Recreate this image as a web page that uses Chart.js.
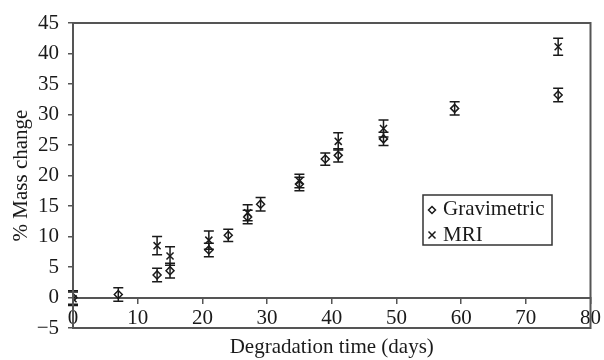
<!DOCTYPE html>
<html>
<head>
<meta charset="utf-8">
<script src="https://cdn.jsdelivr.net/npm/chart.js@4.4.1/dist/chart.umd.min.js"></script>
<style>
  html, body { margin: 0; padding: 0; background: #fff; }
  #wrap { width: 604px; height: 360px; }
</style>
</head>
<body>
<div id="wrap"><canvas id="chart-mass"></canvas></div>
<script>
// data
const gravDays = [0, 7, 13, 15, 21, 24, 27, 29, 35, 39, 41, 48, 59, 75];
const gravMass = [0, 0.5, 3.7, 4.4, 7.8, 10.2, 13.2, 15.3, 18.6, 22.7, 23.3, 26.0, 31.0, 33.2];
const gravErr  = [1.1, 1.1, 1.1, 1.2, 1.1, 1.0, 1.1, 1.1, 1.1, 1.0, 1.1, 1.1, 1.1, 1.1];

const mriDays = [0, 13, 15, 21, 27, 35, 41, 48, 75];
const mriMass = [-0.2, 8.5, 6.8, 9.4, 13.9, 19.1, 25.6, 27.7, 41.1];
const mriErr  = [1.1, 1.5, 1.5, 1.5, 1.3, 1.1, 1.4, 1.4, 1.4];

const xTicks = [0, 10, 20, 30, 40, 50, 60, 70, 80];
const yTicks = [-5, 0, 5, 10, 15, 20, 25, 30, 35, 40, 45];

const FONT = 'Liberation Serif, Times New Roman, serif';
const INK = '#1a1a1a';
const AXIS = '#555';
const PAD = { left: 9, top: 23, right: 13, bottom: 0 };

const toPts = (xs, ys) => xs.map((x, i) => ({ x, y: ys[i] }));

// error bars + frame + legend, drawn through the chart's own scales
const errorBars = {
  id: 'errorBars',
  beforeDatasetsDraw(chart) {
    const { ctx, scales: { x, y } } = chart;
    const sets = [[gravDays, gravMass, gravErr], [mriDays, mriMass, mriErr]];
    ctx.save();
    ctx.strokeStyle = INK;
    ctx.lineWidth = 1.5;
    sets.forEach(([ds, ms, es]) => {
      ds.forEach((d, i) => {
        const px = x.getPixelForValue(d);
        const top = y.getPixelForValue(ms[i] + es[i]);
        const bot = y.getPixelForValue(ms[i] - es[i]);
        ctx.beginPath();
        ctx.moveTo(px, top); ctx.lineTo(px, bot);
        ctx.moveTo(px - 5, top); ctx.lineTo(px + 5, top);
        ctx.moveTo(px - 5, bot); ctx.lineTo(px + 5, bot);
        ctx.stroke();
      });
    });
    ctx.restore();
  },
  afterDraw(chart) {
    const { ctx, chartArea: a } = chart;
    ctx.save();
    ctx.strokeStyle = AXIS;
    ctx.lineWidth = 2;
    ctx.strokeRect(a.left, a.top, a.right - a.left, a.bottom - a.top);

    // legend box
    const lx = a.left + 350, ly = a.top + 172, lw = 129, lh = 50;
    ctx.lineWidth = 1.5;
    ctx.strokeStyle = '#333';
    ctx.fillStyle = '#fff';
    ctx.fillRect(lx, ly, lw, lh);
    ctx.strokeRect(lx, ly, lw, lh);
    ctx.strokeStyle = INK;
    ctx.lineWidth = 1.5;
    const dx = lx + 9, dy = ly + 15;
    ctx.beginPath();
    ctx.moveTo(dx, dy - 3.5); ctx.lineTo(dx + 3.5, dy); ctx.lineTo(dx, dy + 3.5); ctx.lineTo(dx - 3.5, dy); ctx.closePath();
    ctx.stroke();
    const cx = lx + 9, cy = ly + 40;
    ctx.beginPath();
    ctx.moveTo(cx - 3.5, cy - 3.5); ctx.lineTo(cx + 3.5, cy + 3.5);
    ctx.moveTo(cx + 3.5, cy - 3.5); ctx.lineTo(cx - 3.5, cy + 3.5);
    ctx.stroke();
    ctx.fillStyle = INK;
    ctx.font = `21px ${FONT}`;
    ctx.textBaseline = 'middle';
    ctx.fillText(chart.data.datasets[0].label, lx + 20, dy - 1);
    ctx.fillText(chart.data.datasets[1].label, lx + 20, cy);
    ctx.restore();
  },
};

new Chart(document.getElementById('chart-mass'), {
  type: 'scatter',
  data: {
    datasets: [
      {
        label: 'Gravimetric',
        data: toPts(gravDays, gravMass),
        pointStyle: 'rectRot',
        pointRadius: 4,
        pointBorderWidth: 1.5,
        borderColor: INK,
        backgroundColor: 'rgba(0,0,0,0)',
      },
      {
        label: 'MRI',
        data: toPts(mriDays, mriMass),
        pointStyle: 'crossRot',
        pointRadius: 5,
        pointBorderWidth: 1.5,
        borderColor: INK,
        backgroundColor: INK,
      },
    ],
  },
  options: {
    responsive: true,
    maintainAspectRatio: false,
    animation: false,
    layout: { padding: PAD },
    plugins: { legend: { display: false }, tooltip: { enabled: false } },
    scales: {
      x: {
        type: 'linear',
        min: 0, max: 80,
        position: { y: 0 },
        afterBuildTicks: s => { s.ticks = xTicks.map(v => ({ value: v })); },
        grid: { display: true, drawOnChartArea: false, drawTicks: true, tickLength: 5, color: AXIS, lineWidth: 1.5 },
        border: { display: true, color: AXIS, width: 2 },
        ticks: { color: INK, font: { family: FONT, size: 21 }, padding: 3, maxRotation: 0 },
      },
      x2: {
        type: 'linear',
        min: 0, max: 80,
        position: 'bottom',
        grid: { display: false },
        border: { display: false },
        ticks: { display: false },
        title: { display: true, text: 'Degradation time (days)', color: INK, font: { family: FONT, size: 21 }, padding: { top: 0, bottom: 0 } },
        afterFit: s => { s.height = 360 - 328 - PAD.bottom; },
      },
      y: {
        type: 'linear',
        min: -5, max: 45,
        afterBuildTicks: s => { s.ticks = yTicks.map(v => ({ value: v })); },
        grid: { display: true, drawOnChartArea: false, drawTicks: true, tickLength: 5, color: AXIS, lineWidth: 1.5 },
        border: { display: true, color: AXIS, width: 2 },
        ticks: { color: INK, font: { family: FONT, size: 21 }, padding: 9, callback: v => String(v).replace('-', '\u2212') },
        title: { display: true, text: '% Mass change', color: INK, font: { family: FONT, size: 21 }, padding: { top: 0, bottom: 0 } },
        afterFit: s => { s.width = 73 - PAD.left; },
      },
    },
  },
  plugins: [errorBars],
});
</script>
</body>
</html>
